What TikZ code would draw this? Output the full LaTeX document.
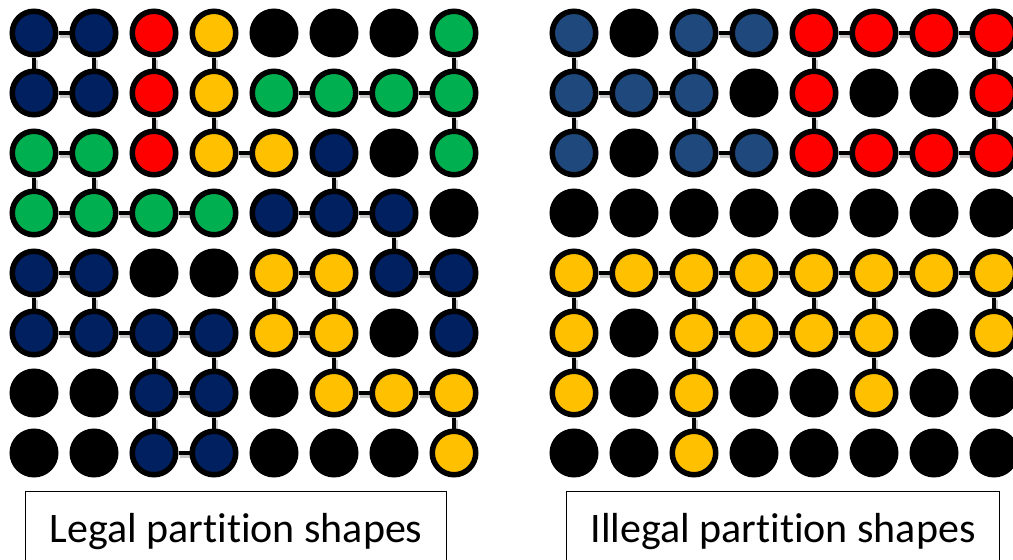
\documentclass[tikz,border=0pt]{standalone}
\usepackage{fontspec}
\setmainfont{Carlito}[Ligatures=NoCommon]
\usepackage{tikz}

\definecolor{navyfill}{HTML}{002060}
\definecolor{steelfill}{HTML}{1F497D}
\definecolor{redfill}{HTML}{FF0000}
\definecolor{goldfill}{HTML}{FFC000}
\definecolor{greenfill}{HTML}{00B050}

\tikzset{
  dot/.style={circle, draw=black, line width=5.5pt, minimum size=43.5pt, inner sep=0pt},
  navydot/.style={dot, fill=navyfill},
  steeldot/.style={dot, fill=steelfill},
  reddot/.style={dot, fill=redfill},
  golddot/.style={dot, fill=goldfill},
  greendot/.style={dot, fill=greenfill},
  offdot/.style={dot, fill=black},
  link/.style={black, line width=4.8pt,
    preaction={draw=black, draw opacity=.22, line width=5.5pt, transform canvas={shift={(1.5pt,-2.5pt)}}}},
  caption/.style={draw=black, line width=1.3pt, inner sep=0pt, text height=51pt, text depth=40pt,
    font=\fontsize{42}{50}\selectfont}
}

\begin{document}
\begin{tikzpicture}[x=1pt, y=-1pt]
\useasboundingbox (0,0) rectangle (1013,560);
\clip (0,0) rectangle (1013,560);
% left board
\node[navydot] (l11) at (34,33) {};
\node[navydot] (l12) at (94,33) {};
\node[reddot] (l13) at (154,33) {};
\node[golddot] (l14) at (214,33) {};
\node[offdot] (l15) at (274,33) {};
\node[offdot] (l16) at (334,33) {};
\node[offdot] (l17) at (394,33) {};
\node[greendot] (l18) at (454,33) {};
\node[navydot] (l21) at (34,93) {};
\node[navydot] (l22) at (94,93) {};
\node[reddot] (l23) at (154,93) {};
\node[golddot] (l24) at (214,93) {};
\node[greendot] (l25) at (274,93) {};
\node[greendot] (l26) at (334,93) {};
\node[greendot] (l27) at (394,93) {};
\node[greendot] (l28) at (454,93) {};
\node[greendot] (l31) at (34,153) {};
\node[greendot] (l32) at (94,153) {};
\node[reddot] (l33) at (154,153) {};
\node[golddot] (l34) at (214,153) {};
\node[golddot] (l35) at (274,153) {};
\node[navydot] (l36) at (334,153) {};
\node[offdot] (l37) at (394,153) {};
\node[greendot] (l38) at (454,153) {};
\node[greendot] (l41) at (34,213) {};
\node[greendot] (l42) at (94,213) {};
\node[greendot] (l43) at (154,213) {};
\node[greendot] (l44) at (214,213) {};
\node[navydot] (l45) at (274,213) {};
\node[navydot] (l46) at (334,213) {};
\node[navydot] (l47) at (394,213) {};
\node[offdot] (l48) at (454,213) {};
\node[navydot] (l51) at (34,273) {};
\node[navydot] (l52) at (94,273) {};
\node[offdot] (l53) at (154,273) {};
\node[offdot] (l54) at (214,273) {};
\node[golddot] (l55) at (274,273) {};
\node[golddot] (l56) at (334,273) {};
\node[navydot] (l57) at (394,273) {};
\node[navydot] (l58) at (454,273) {};
\node[navydot] (l61) at (34,333) {};
\node[navydot] (l62) at (94,333) {};
\node[navydot] (l63) at (154,333) {};
\node[navydot] (l64) at (214,333) {};
\node[golddot] (l65) at (274,333) {};
\node[golddot] (l66) at (334,333) {};
\node[offdot] (l67) at (394,333) {};
\node[navydot] (l68) at (454,333) {};
\node[offdot] (l71) at (34,393) {};
\node[offdot] (l72) at (94,393) {};
\node[navydot] (l73) at (154,393) {};
\node[navydot] (l74) at (214,393) {};
\node[offdot] (l75) at (274,393) {};
\node[golddot] (l76) at (334,393) {};
\node[golddot] (l77) at (394,393) {};
\node[golddot] (l78) at (454,393) {};
\node[offdot] (l81) at (34,453) {};
\node[offdot] (l82) at (94,453) {};
\node[navydot] (l83) at (154,453) {};
\node[navydot] (l84) at (214,453) {};
\node[offdot] (l85) at (274,453) {};
\node[offdot] (l86) at (334,453) {};
\node[offdot] (l87) at (394,453) {};
\node[golddot] (l88) at (454,453) {};
% left board, links
\draw[link] (l11)--(l12);
\draw[link] (l21)--(l22);
\draw[link] (l25)--(l26);
\draw[link] (l26)--(l27);
\draw[link] (l27)--(l28);
\draw[link] (l31)--(l32);
\draw[link] (l34)--(l35);
\draw[link] (l41)--(l42);
\draw[link] (l42)--(l43);
\draw[link] (l43)--(l44);
\draw[link] (l45)--(l46);
\draw[link] (l46)--(l47);
\draw[link] (l51)--(l52);
\draw[link] (l55)--(l56);
\draw[link] (l57)--(l58);
\draw[link] (l61)--(l62);
\draw[link] (l62)--(l63);
\draw[link] (l63)--(l64);
\draw[link] (l65)--(l66);
\draw[link] (l73)--(l74);
\draw[link] (l76)--(l77);
\draw[link] (l77)--(l78);
\draw[link] (l83)--(l84);
\draw[link] (l11)--(l21);
\draw[link] (l12)--(l22);
\draw[link] (l13)--(l23);
\draw[link] (l14)--(l24);
\draw[link] (l18)--(l28);
\draw[link] (l23)--(l33);
\draw[link] (l24)--(l34);
\draw[link] (l28)--(l38);
\draw[link] (l31)--(l41);
\draw[link] (l32)--(l42);
\draw[link] (l36)--(l46);
\draw[link] (l47)--(l57);
\draw[link] (l51)--(l61);
\draw[link] (l52)--(l62);
\draw[link] (l55)--(l65);
\draw[link] (l56)--(l66);
\draw[link] (l58)--(l68);
\draw[link] (l63)--(l73);
\draw[link] (l64)--(l74);
\draw[link] (l66)--(l76);
\draw[link] (l73)--(l83);
\draw[link] (l74)--(l84);
\draw[link] (l78)--(l88);
% right board
\node[steeldot] (r11) at (574,33) {};
\node[offdot] (r12) at (634,33) {};
\node[steeldot] (r13) at (694,33) {};
\node[steeldot] (r14) at (754,33) {};
\node[reddot] (r15) at (814,33) {};
\node[reddot] (r16) at (874,33) {};
\node[reddot] (r17) at (934,33) {};
\node[reddot] (r18) at (994,33) {};
\node[steeldot] (r21) at (574,93) {};
\node[steeldot] (r22) at (634,93) {};
\node[steeldot] (r23) at (694,93) {};
\node[offdot] (r24) at (754,93) {};
\node[reddot] (r25) at (814,93) {};
\node[offdot] (r26) at (874,93) {};
\node[offdot] (r27) at (934,93) {};
\node[reddot] (r28) at (994,93) {};
\node[steeldot] (r31) at (574,153) {};
\node[offdot] (r32) at (634,153) {};
\node[steeldot] (r33) at (694,153) {};
\node[steeldot] (r34) at (754,153) {};
\node[reddot] (r35) at (814,153) {};
\node[reddot] (r36) at (874,153) {};
\node[reddot] (r37) at (934,153) {};
\node[reddot] (r38) at (994,153) {};
\node[offdot] (r41) at (574,213) {};
\node[offdot] (r42) at (634,213) {};
\node[offdot] (r43) at (694,213) {};
\node[offdot] (r44) at (754,213) {};
\node[offdot] (r45) at (814,213) {};
\node[offdot] (r46) at (874,213) {};
\node[offdot] (r47) at (934,213) {};
\node[offdot] (r48) at (994,213) {};
\node[golddot] (r51) at (574,273) {};
\node[golddot] (r52) at (634,273) {};
\node[golddot] (r53) at (694,273) {};
\node[golddot] (r54) at (754,273) {};
\node[golddot] (r55) at (814,273) {};
\node[golddot] (r56) at (874,273) {};
\node[golddot] (r57) at (934,273) {};
\node[golddot] (r58) at (994,273) {};
\node[golddot] (r61) at (574,333) {};
\node[offdot] (r62) at (634,333) {};
\node[golddot] (r63) at (694,333) {};
\node[golddot] (r64) at (754,333) {};
\node[golddot] (r65) at (814,333) {};
\node[golddot] (r66) at (874,333) {};
\node[offdot] (r67) at (934,333) {};
\node[golddot] (r68) at (994,333) {};
\node[golddot] (r71) at (574,393) {};
\node[offdot] (r72) at (634,393) {};
\node[golddot] (r73) at (694,393) {};
\node[offdot] (r74) at (754,393) {};
\node[offdot] (r75) at (814,393) {};
\node[golddot] (r76) at (874,393) {};
\node[offdot] (r77) at (934,393) {};
\node[offdot] (r78) at (994,393) {};
\node[offdot] (r81) at (574,453) {};
\node[offdot] (r82) at (634,453) {};
\node[golddot] (r83) at (694,453) {};
\node[offdot] (r84) at (754,453) {};
\node[offdot] (r85) at (814,453) {};
\node[offdot] (r86) at (874,453) {};
\node[offdot] (r87) at (934,453) {};
\node[offdot] (r88) at (994,453) {};
% right board, links
\draw[link] (r13)--(r14);
\draw[link] (r15)--(r16);
\draw[link] (r16)--(r17);
\draw[link] (r17)--(r18);
\draw[link] (r21)--(r22);
\draw[link] (r22)--(r23);
\draw[link] (r33)--(r34);
\draw[link] (r35)--(r36);
\draw[link] (r36)--(r37);
\draw[link] (r37)--(r38);
\draw[link] (r51)--(r52);
\draw[link] (r52)--(r53);
\draw[link] (r53)--(r54);
\draw[link] (r54)--(r55);
\draw[link] (r55)--(r56);
\draw[link] (r56)--(r57);
\draw[link] (r57)--(r58);
\draw[link] (r63)--(r64);
\draw[link] (r64)--(r65);
\draw[link] (r65)--(r66);
\draw[link] (r11)--(r21);
\draw[link] (r13)--(r23);
\draw[link] (r15)--(r25);
\draw[link] (r18)--(r28);
\draw[link] (r21)--(r31);
\draw[link] (r23)--(r33);
\draw[link] (r25)--(r35);
\draw[link] (r28)--(r38);
\draw[link] (r51)--(r61);
\draw[link] (r53)--(r63);
\draw[link] (r54)--(r64);
\draw[link] (r55)--(r65);
\draw[link] (r56)--(r66);
\draw[link] (r58)--(r68);
\draw[link] (r61)--(r71);
\draw[link] (r63)--(r73);
\draw[link] (r66)--(r76);
\draw[link] (r73)--(r83);
% captions
\node[caption, minimum width=421pt, anchor=north west] (legal) at (25,490.7) {Legal partition shapes};
\node[caption, minimum width=433pt, anchor=north west] (illegal) at (566,490.7) {Illegal partition shapes};
\end{tikzpicture}
\end{document}
